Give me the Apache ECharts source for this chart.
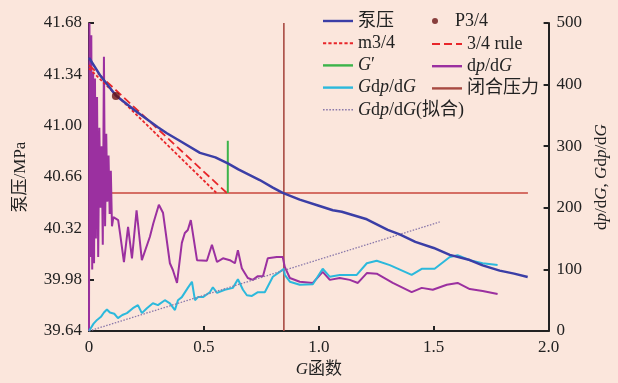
<!DOCTYPE html>
<html>
<head>
<meta charset="utf-8">
<script src="https://cdn.jsdelivr.net/npm/echarts@6/dist/echarts.min.js"></script>
<style>
  html, body { margin: 0; padding: 0; background: #fbe6dc; }
  #main { width: 618px; height: 383px; }
</style>
</head>
<body>
<div id="main"></div>
<script>
// 泵压 (left axis, MPa)
const pumpG = [0, 0.05, 0.117, 0.2, 0.3, 0.339, 0.4, 0.483, 0.55, 0.604, 0.65, 0.743, 0.8, 0.843, 0.917, 1.0, 1.061, 1.1, 1.209, 1.3, 1.352, 1.42, 1.5, 1.57, 1.657, 1.713, 1.787, 1.85, 1.909];
const pumpP = [41.45, 41.33, 41.20, 41.10, 40.99, 40.95, 40.895, 40.82, 40.79, 40.75, 40.71, 40.64, 40.59, 40.555, 40.51, 40.47, 40.44, 40.43, 40.38, 40.31, 40.28, 40.23, 40.19, 40.144, 40.11, 40.075, 40.04, 40.02, 39.998];

// dp/dG (right axis)
const dpdgG = [0, 0.002, 0.006, 0.01, 0.014, 0.018, 0.022, 0.026, 0.03, 0.035, 0.04, 0.045, 0.05, 0.055, 0.06, 0.065, 0.07, 0.075, 0.08, 0.085, 0.09, 0.095, 0.1, 0.106,
  0.127, 0.135, 0.152, 0.17, 0.187, 0.207, 0.23, 0.265, 0.28, 0.304, 0.322, 0.352, 0.365, 0.383, 0.404, 0.417, 0.43, 0.443, 0.47, 0.513, 0.535, 0.557, 0.583, 0.613, 0.635, 0.648, 0.665, 0.691, 0.713, 0.735, 0.757, 0.778, 0.817, 0.843,
  0.852, 0.874, 0.917, 0.974, 1.017, 1.048, 1.091, 1.135, 1.17, 1.209, 1.252, 1.322, 1.404, 1.448, 1.496, 1.557, 1.604, 1.657, 1.713, 1.778];
const dpdgV = [0, 500, 120, 480, 100, 420, 110, 410, 150, 380, 120, 330, 200, 300, 140, 445, 170, 320, 210, 285, 190, 260, 170, 185,
  180, 159, 112, 169, 118, 196, 115, 153, 175, 205, 192, 110, 99, 78, 143, 159, 164, 180, 115, 114, 140, 112, 118, 115, 110, 131, 102, 86, 83, 89, 89, 118, 120, 120,
  104, 86, 80, 78, 96, 83, 86, 83, 78, 94, 93, 78, 63, 70, 67, 75, 78, 68, 65, 60];

// Gdp/dG (right axis)
const gdpdgG = [0, 0.02, 0.035, 0.052, 0.065, 0.078, 0.091, 0.11, 0.126, 0.145, 0.165, 0.191, 0.213, 0.23, 0.252, 0.278, 0.3, 0.33, 0.352, 0.374, 0.387, 0.404, 0.43, 0.448, 0.461, 0.474, 0.496, 0.526, 0.539, 0.557, 0.591, 0.626, 0.648, 0.67, 0.687, 0.709, 0.735, 0.765, 0.8, 0.83, 0.848,
  0.852, 0.874, 0.917, 0.974, 1.017, 1.048, 1.091, 1.165, 1.209, 1.252, 1.309, 1.404, 1.448, 1.504, 1.57, 1.604, 1.657, 1.713, 1.778];
const gdpdgV = [0, 12, 18, 23, 30, 35, 30, 28, 21, 26, 29, 37, 42, 29, 37, 45, 42, 50, 45, 34, 50, 55, 70, 80, 50, 55, 55, 63, 71, 62, 67, 70, 84, 67, 58, 57, 63, 63, 88, 96, 101,
  91, 80, 75, 76, 101, 88, 91, 91, 110, 114, 107, 91, 101, 101, 120, 123, 115, 110, 107];

// Gdp/dG(拟合)
const fitG = [0, 1.526];
const fitV = [0, 177];

// 3/4 rule, m3/4 lines, G', P3/4, 闭合压力
const ruleG = [0, 0.60];
const ruleP = [41.40, 40.554];
const m34G = [0, 0.555];
const m34P = [41.38, 40.554];
const gPrimeG = [0.604, 0.604];
const gPrimeP = [40.554, 40.90];
const p34 = [0.117, 41.197];
const closureP = 40.554;
const closureG = 0.848;
const closureSpan = [0, 1.91];

const leftTicks = [39.64, 39.98, 40.32, 40.66, 41.00, 41.34, 41.68];

const pairs = (xs, ys) => xs.map((x, i) => [x, ys[i]]);

const serif = "'Liberation Serif', 'DejaVu Serif', 'Noto Sans CJK SC', serif";
const richI = { i: { fontStyle: 'italic', fontFamily: serif, fontSize: 18, color: '#222' } };
const richAxis = { i: { fontStyle: 'italic', fontFamily: serif, fontSize: 17, color: '#222' } };
const italicize = (s) => s.replace(/[Gp]/g, (m) => '{i|' + m + '}');

// legend icons drawn as filled dash pieces, 30 units wide
function dashIcon(dash, gap, h) {
  let d = '';
  for (let x = 0; x < 30; x += dash + gap) {
    const w = Math.min(dash, 30 - x);
    d += 'M' + x + ',0h' + w + 'v' + h + 'h' + (-w) + 'z';
  }
  return 'path://' + d;
}
const solidIcon = dashIcon(30, 0, 2.4);

const chart = echarts.init(document.getElementById('main'));

const legendBase = {
  orient: 'vertical',
  itemWidth: 30,
  itemHeight: 12,
  itemGap: 4.2,
  textStyle: { fontFamily: serif, fontSize: 18, color: '#222', rich: richI },
  formatter: italicize
};

const axisCommon = {
  axisLine: { show: true, lineStyle: { color: '#222', width: 2 } },
  axisTick: { show: true, inside: true, length: 5, lineStyle: { color: '#222', width: 2 } },
  axisLabel: { fontFamily: serif, fontSize: 17, color: '#222' },
  splitLine: { show: false }
};

const option = {
  backgroundColor: '#fbe6dc',
  animation: false,
  grid: { left: 89, right: 69, top: 23, bottom: 52 },
  legend: [
    Object.assign({}, legendBase, {
      left: 318, top: 7,
      data: [
        { name: '泵压', icon: solidIcon },
        { name: 'm3/4', icon: dashIcon(3, 2, 2) },
        { name: "G′", icon: solidIcon },
        { name: 'Gdp/dG', icon: solidIcon },
        { name: 'Gdp/dG(拟合)', icon: dashIcon(1.5, 1.5, 1.4) }
      ]
    }),
    Object.assign({}, legendBase, { left: 427, top: 7, itemHeight: 6, data: ['P3/4'] }),
    Object.assign({}, legendBase, {
      left: 427, top: 30,
      data: [
        { name: '3/4 rule', icon: dashIcon(8, 4, 2) },
        { name: 'dp/dG', icon: solidIcon },
        { name: '闭合压力', icon: solidIcon }
      ]
    })
  ],
  xAxis: Object.assign({}, axisCommon, {
    type: 'value', min: 0, max: 2, interval: 0.5,
    name: '{i|G}函数', nameLocation: 'middle', nameGap: 27,
    nameTextStyle: { fontFamily: serif, fontSize: 17, color: '#222', rich: richAxis },
    axisLabel: Object.assign({}, axisCommon.axisLabel, { margin: 8, formatter: (v) => v === 0 ? '0' : v.toFixed(1) })
  }),
  yAxis: [
    Object.assign({}, axisCommon, {
      type: 'value', min: 39.64, max: 41.68,
      name: '泵压/MPa', nameLocation: 'middle', nameGap: 60, nameRotate: 90,
      nameTextStyle: { fontFamily: serif, fontSize: 17, color: '#222' },
      axisTick: Object.assign({}, axisCommon.axisTick, { customValues: leftTicks }),
      axisLabel: Object.assign({}, axisCommon.axisLabel, { margin: 7, customValues: leftTicks, formatter: (v) => v.toFixed(2) })
    }),
    Object.assign({}, axisCommon, {
      type: 'value', min: 0, max: 500, interval: 100, position: 'right',
      name: 'd{i|p}/d{i|G}, {i|G}d{i|p}/d{i|G}', nameLocation: 'middle', nameGap: 44, nameRotate: 90,
      nameTextStyle: { fontFamily: serif, fontSize: 17, color: '#222', rich: richAxis },
      axisLabel: Object.assign({}, axisCommon.axisLabel, { margin: 8 })
    })
  ],
  series: [
    {
      name: '闭合压力', type: 'line', yAxisIndex: 0, symbol: 'none', z: 1,
      data: [[closureG, leftTicks[0]], [closureG, leftTicks[leftTicks.length - 1]]],
      lineStyle: { color: '#a84a42', width: 1.6 }, itemStyle: { color: '#a84a42' }
    },
    {
      name: 'closure-h', type: 'line', yAxisIndex: 0, symbol: 'none', z: 1,
      data: closureSpan.map((g) => [g, closureP]),
      lineStyle: { color: '#c9463d', width: 1.6 }
    },
    {
      name: 'dp/dG', type: 'line', yAxisIndex: 1, symbol: 'none', z: 2,
      data: pairs(dpdgG, dpdgV),
      lineStyle: { color: '#9b30a0', width: 2 }, itemStyle: { color: '#9b30a0' }
    },
    {
      name: 'Gdp/dG', type: 'line', yAxisIndex: 1, symbol: 'none', z: 2,
      data: pairs(gdpdgG, gdpdgV),
      lineStyle: { color: '#2cb9dc', width: 2 }, itemStyle: { color: '#2cb9dc' }
    },
    {
      name: 'Gdp/dG(拟合)', type: 'line', yAxisIndex: 1, symbol: 'none', z: 3,
      data: pairs(fitG, fitV),
      lineStyle: { color: '#8a78aa', width: 1.3, type: [1.5, 1.5] }, itemStyle: { color: '#8a78aa' }
    },
    {
      name: '3/4 rule', type: 'line', yAxisIndex: 0, symbol: 'none', z: 3,
      data: pairs(ruleG, ruleP),
      lineStyle: { color: '#e8262a', width: 1.8, type: [8, 4] }, itemStyle: { color: '#e8262a' }
    },
    {
      name: 'm3/4', type: 'line', yAxisIndex: 0, symbol: 'none', z: 3,
      data: pairs(m34G, m34P),
      lineStyle: { color: '#e8262a', width: 1.8, type: [3, 2] }, itemStyle: { color: '#e8262a' }
    },
    {
      name: "G′", type: 'line', yAxisIndex: 0, symbol: 'none', z: 3,
      data: pairs(gPrimeG, gPrimeP),
      lineStyle: { color: '#3cb44a', width: 2 }, itemStyle: { color: '#3cb44a' }
    },
    {
      name: '泵压', type: 'line', yAxisIndex: 0, symbol: 'none', z: 4,
      data: pairs(pumpG, pumpP),
      lineStyle: { color: '#3b3ea6', width: 2.5 }, itemStyle: { color: '#3b3ea6' }
    },
    {
      name: 'P3/4', type: 'scatter', yAxisIndex: 0, z: 5,
      symbol: 'circle', symbolSize: 8,
      data: [p34],
      itemStyle: { color: '#6b1414' }
    }
  ]
};

chart.setOption(option);
</script>
</body>
</html>
